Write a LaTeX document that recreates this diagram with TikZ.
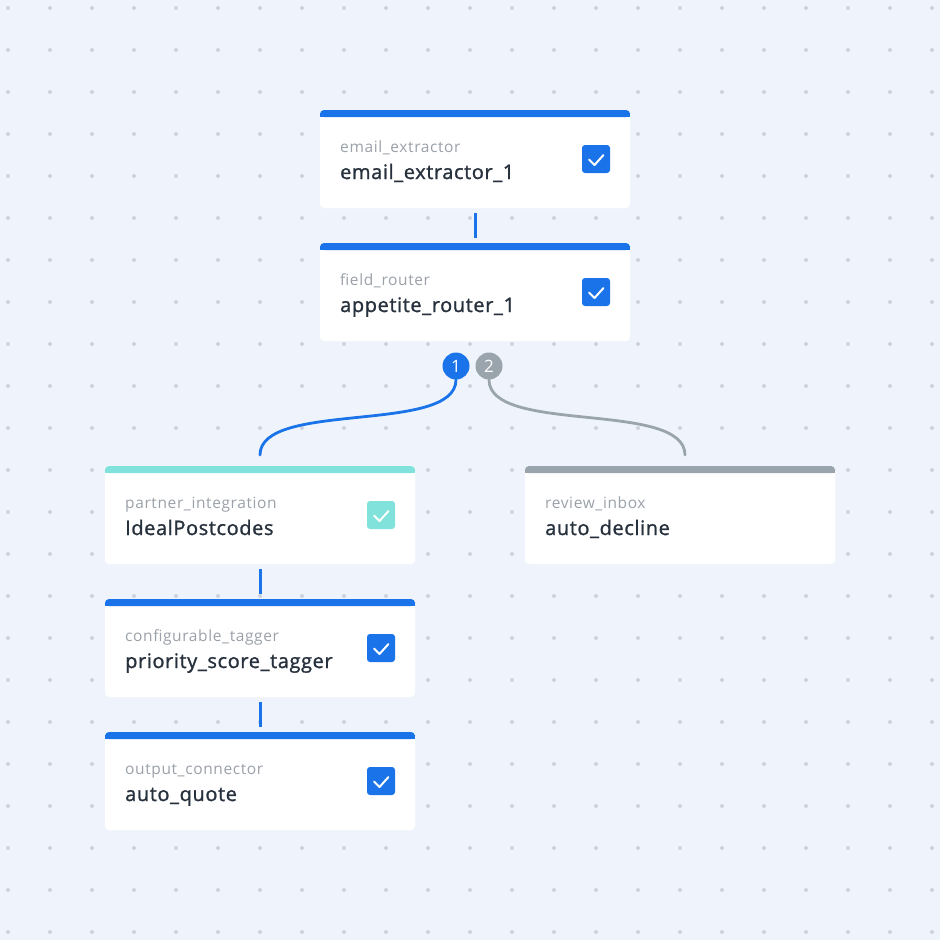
\documentclass[tikz,border=0pt]{standalone}
\usepackage{fontspec}
\setmainfont{Open Sans}
\newfontfamily\lblfont[LetterSpace=4]{Open Sans}
\newfontfamily\ttlfont[LetterSpace=3,FakeBold=1.2]{Open Sans}
\newfontfamily\badgefont{Open Sans}
\definecolor{bgc}{HTML}{EFF4FC}
\definecolor{dotc}{HTML}{CDD3DC}
\definecolor{blu}{HTML}{1A73E8}
\definecolor{tealc}{HTML}{80E2DA}
\definecolor{grayc}{HTML}{9AA4AD}
\definecolor{lblc}{HTML}{9BA1A9}
\definecolor{txtc}{HTML}{27313D}
\tikzset{
  cardbox/.style={fill=white, rounded corners=4pt},
  lbl/.style={anchor=base west, inner sep=0pt, text=lblc, font=\lblfont\fontsize{15.5}{16}\selectfont},
  ttl/.style={anchor=base west, inner sep=0pt, text=txtc, font=\ttlfont\fontsize{20}{20}\selectfont},
  chk/.style={fill=#1, rounded corners=3pt},
  link/.style={line width=3pt, draw=blu},
  curve/.style={line width=2.8pt, line cap=round, draw=#1},
  badge/.style={circle, fill=#1, minimum size=27pt, inner sep=0pt, text=white, font=\badgefont\fontsize{17}{17}\selectfont},
}
% card: #1 name, #2 x, #3 y top, #4 bar colour, #5 label, #6 title, #7 check colour (or none)
\newcommand{\mycard}[7]{%
  \fill[cardbox] (#2,#3) rectangle ++(310,98);
  \fill[#4, rounded corners=4pt] (#2,#3) rectangle ++(310,7);
  \fill[#4] (#2,#3+4) rectangle ++(310,3);
  \coordinate (#1-top) at (#2+155,#3);
  \coordinate (#1-bot) at (#2+155,#3+98);
  \node[lbl] (#1-lbl) at (#2+20,#3+42) {#5};
  \node[ttl] (#1-ttl) at (#2+20,#3+69) {#6};
  \ifx\relax#7\relax\else
    \fill[chk=#7] (#2+262,#3+35) rectangle ++(28,28);
    \draw[white, line width=2pt, line cap=round, line join=round] (#2+269,#3+49.5) -- (#2+274.5,#3+55) -- (#2+283.5,#3+45);
  \fi
}
\begin{document}
\begin{tikzpicture}[x=1pt,y=-1pt]
\useasboundingbox (0,0) rectangle (940,940);
\fill[bgc] (0,0) rectangle (940,940);
\foreach \i in {0,...,22}{\foreach \j in {0,...,22}{\fill[dotc] (8+42*\i,8+42*\j) circle (2);}}
\mycard{a}{320}{110}{blu}{email\_extractor}{email\_extractor\_1}{blu}
\mycard{b}{320}{243}{blu}{field\_router}{appetite\_router\_1}{blu}
\mycard{c}{105}{466}{tealc}{partner\_integration}{IdealPostcodes}{tealc}
\mycard{d}{525}{466}{grayc}{review\_inbox}{auto\_decline}{}
\mycard{e}{105}{599}{blu}{configurable\_tagger}{priority\_score\_tagger}{blu}
\mycard{f}{105}{732}{blu}{output\_connector}{auto\_quote}{blu}
\draw[link] ([yshift=-5]a-bot) -- ([yshift=5]b-top);
\draw[link] ([yshift=-5]c-bot) -- ([yshift=5]e-top);
\draw[link] ([yshift=-5]e-bot) -- ([yshift=5]f-top);
\node[badge=blu] (n1) at (456,366) {1};
\node[badge=grayc] (n2) at (489,366) {2};
\coordinate (ce) at (260,455);
\coordinate (de) at (685,455);
\draw[curve=blu] (n1.south) .. controls ([yshift=-55]n1.south) and ([yshift=55]ce) .. (ce);
\draw[curve=grayc] (n2.south) .. controls ([yshift=-55]n2.south) and ([yshift=55]de) .. (de);
\end{tikzpicture}
\end{document}
